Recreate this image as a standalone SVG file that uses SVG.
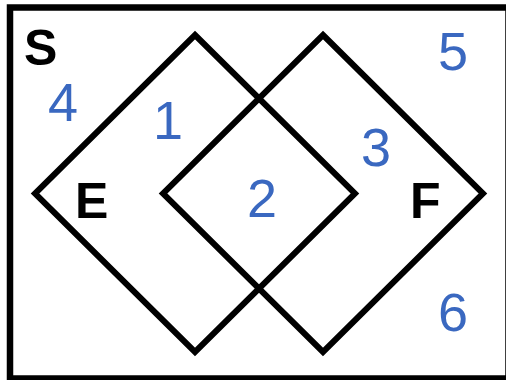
<svg xmlns="http://www.w3.org/2000/svg" width="506" height="380" viewBox="0 0 506 380">
  <style>
    .frame { fill: none; stroke: #000; stroke-width: 6.5; }
    .set { fill: none; stroke: #000; stroke-width: 6; stroke-linejoin: miter; }
    .lbl { font-family: "Liberation Sans", Arial, sans-serif; font-weight: bold; font-size: 50px; fill: #000; }
    .num { font-family: "Liberation Sans", Arial, sans-serif; font-size: 54px; fill: #3a68c0; text-anchor: middle; }
  </style>
  <rect width="506" height="380" fill="#fff"/>
  <g id="sample-space">
    <rect class="frame" x="10" y="7.5" width="498.5" height="371"/>
    <text class="lbl" x="24" y="65">S</text>
  </g>
  <g id="set-E">
    <polygon class="set" points="195,35 355,193.5 195,352 35,193.5"/>
    <text class="lbl" x="75" y="218">E</text>
  </g>
  <g id="set-F">
    <polygon class="set" points="323,35 483,193.5 323,352 163,193.5"/>
    <text class="lbl" x="410" y="218">F</text>
  </g>
  <g id="regions">
    <text class="num" x="63" y="121">4</text>
    <text class="num" x="168" y="139">1</text>
    <text class="num" x="262" y="217">2</text>
    <text class="num" x="376" y="166">3</text>
    <text class="num" x="453" y="70">5</text>
    <text class="num" x="453" y="331">6</text>
  </g>
</svg>
